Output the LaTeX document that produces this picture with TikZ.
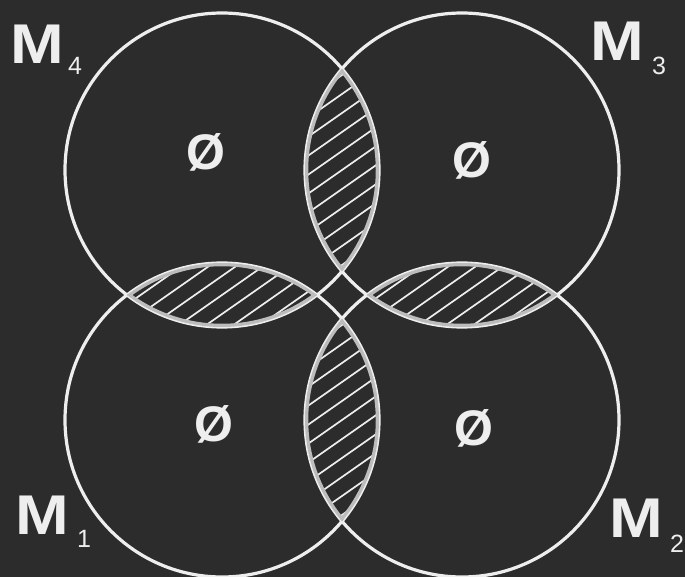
\documentclass[tikz,border=0pt]{standalone}
\usepackage{fontspec}
\setmainfont{Liberation Sans}
\usetikzlibrary{calc}
\definecolor{bgdark}{RGB}{44,44,44}
\definecolor{chalk}{RGB}{238,238,238}
\definecolor{lensgray}{RGB}{188,188,188}
\newcommand{\crad}{157}

\begin{document}
\begin{tikzpicture}[x=1pt,y=-1pt,
      ring/.style={draw=chalk,line width=3.2pt},
      hatch/.style={draw=chalk,line width=1.7pt},
      rim/.style={draw=lensgray,line width=6.5pt},
      setname/.style={font=\fontsize{56}{56}\selectfont\bfseries,text=chalk,inner sep=0pt},
      idx/.style={font=\fontsize{25}{25}\selectfont,text=chalk,inner sep=0pt},
      nullset/.style={font=\fontsize{50}{50}\selectfont\bfseries,text=chalk,inner sep=0pt},
    ]
      % page and background
      \useasboundingbox (0,0) rectangle (685,577);
      \fill[bgdark] (0,0) rectangle (685,577);

      % Centres: c1 bottom left, c2 bottom right, c3 top right, c4 top left
      \coordinate (c1) at (222,420);
      \coordinate (c2) at (462,420);
      \coordinate (c3) at (462,170);
      \coordinate (c4) at (222,170);

      \foreach \c in {c1,c2,c3,c4}
        \draw[ring] (\c) circle (\crad);

      % Hatched overlaps of neighbouring sets
      \foreach \lx/\ly/\pa/\pb in {342/170/c4/c3, 222/295/c4/c1, 462/295/c3/c2, 342/420/c1/c2}{
        \begin{scope}
          \clip (\pa) circle (\crad);
          \clip (\pb) circle (\crad);
          \foreach \k in {-12,...,12}
            \draw[hatch] (\lx-140,\ly+\k*19+98) -- (\lx+140,\ly+\k*19-98);
          \draw[rim] (\pa) circle (\crad);
          \draw[rim] (\pb) circle (\crad);
        \end{scope}
      }

      % Empty parts
      \node[nullset] (e4) at (206,152) {Ø};
      \node[nullset] (e3) at (472,160) {Ø};
      \node[nullset] (e1) at (214,424) {Ø};
      \node[nullset] (e2) at (474,428) {Ø};

      % Set names
      \foreach \d/\mx/\my/\ix/\iy in {4/37/44/75/66, 3/617/41/659/66, 1/42/515/84/539, 2/636/518/677/544}{
        \node[setname] (m\d) at (\mx,\my) {\scalebox{1.15}[1]{M}};
        \node[idx] (m\d i) at (\ix,\iy) {\d};
      }
    \end{tikzpicture}
\end{document}
